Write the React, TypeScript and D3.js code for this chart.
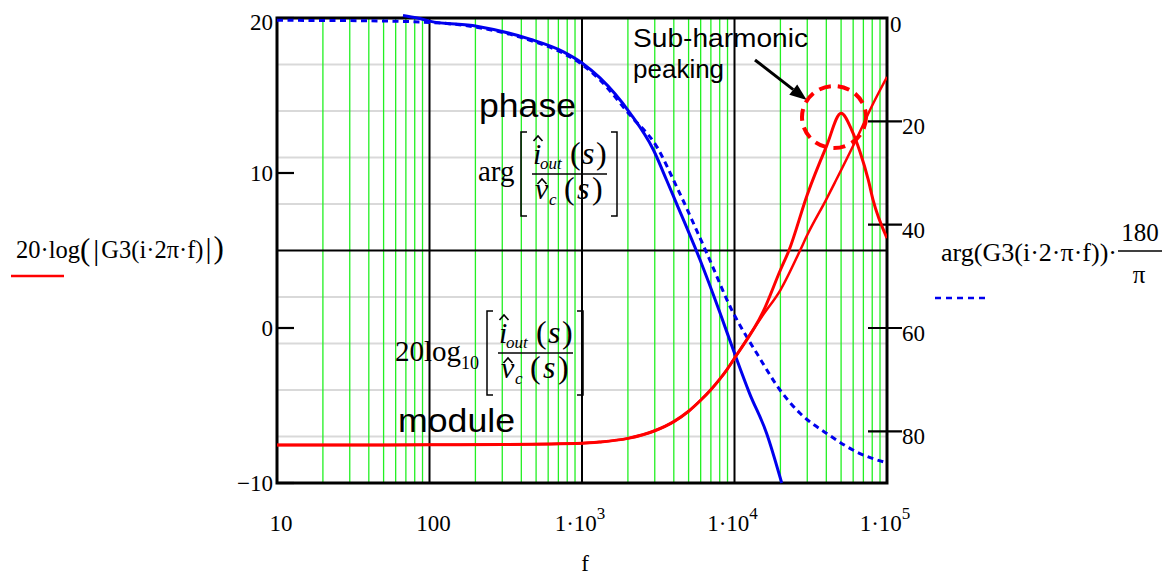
import React from 'react';
import * as d3 from 'd3';

// magnitude traces (dB), left axis
const peakFreq = [10, 30, 100, 300, 1000, 1300, 2000, 3000, 4000, 5000, 6000, 7000, 8000, 9000, 10000, 15400, 20000, 22750, 30000, 40000, 50000, 58700, 66500, 75400, 81000, 100000];
const peakDb = [-7.55, -7.55, -7.54, -7.52, -7.44, -7.36, -7.12, -6.63, -6.04, -5.37, -4.66, -3.98, -3.3, -2.63, -1.95, 1.05, 3.74, 5.0, 8.6, 11.7, 13.85, 12.77, 11.37, 9.55, 8.26, 5.8];
const modFreq = [10, 30, 100, 300, 1000, 1300, 2000, 3000, 4000, 5000, 6000, 7000, 8000, 9000, 10000, 15400, 20000, 26900, 30000, 40000, 45600, 61700, 81300, 100000];
const modDb = [-7.55, -7.55, -7.54, -7.52, -7.44, -7.36, -7.12, -6.63, -6.04, -5.37, -4.66, -3.98, -3.3, -2.63, -1.95, 0.85, 2.45, 5.0, 6.0, 8.3, 9.4, 12.0, 14.5, 16.2];

// phase traces (deg, drawn downward), right axis
const simFreq = [67, 83, 100, 204, 456, 750, 1000, 1312, 2065, 2937, 3590, 4070, 5940, 8040, 10000, 12530, 16250, 20400];
const simDeg = [-0.5, 0, 0.6, 1.6, 4.1, 6.5, 8.7, 11.6, 18.4, 25.5, 31.4, 35.2, 46.8, 57.1, 64.9, 72.6, 80.4, 90];
const argFreq = [10, 30, 100, 204, 456, 750, 1000, 1312, 2065, 3090, 4180, 6580, 9820, 12020, 14000, 19870, 26900, 40250, 66500, 94600, 100000];
const argDeg = [0.45, 0.5, 0.85, 1.8, 4.3, 6.8, 9.0, 12.0, 18.8, 24.9, 32.7, 45.5, 57.1, 61.7, 64.9, 72, 76.5, 80.4, 84.3, 85.9, 86.1];

const leftTicks = [20, 10, 0, -10];
const rightTicks = [0, 20, 40, 60, 80];
const decades = [10, 100, 1000, 10000, 100000];
const decadeLabels = [['10', ''], ['100', ''], ['1·10', '3'], ['1·10', '4'], ['1·10', '5']];
const phaseGrid = [9, 18, 27, 36, 54, 63, 72, 81];

const serif = "'Liberation Serif', 'Times New Roman', serif";
const sans = "'Liberation Sans', Arial, sans-serif";

const L = 277, R = 887, T = 18, B = 483;
const x = d3.scaleLog().domain([10, 1e5]).range([L, R]);
const yL = d3.scaleLinear().domain([-10, 20]).range([B, T]);
const yR = d3.scaleLinear().domain([0, 90]).range([T, B]);

function zip(a: number[], b: number[]) {
  return a.map((v, i) => [v, b[i]] as [number, number]);
}

const magLine = d3.line<[number, number]>().x(d => x(d[0])).y(d => yL(d[1])).curve(d3.curveMonotoneX);
const phLine = d3.line<[number, number]>().x(d => x(d[0])).y(d => yR(d[1])).curve(d3.curveMonotoneX);

function Hat({ cx, y }: { cx: number; y: number }) {
  return <path d={`M${cx - 4.5},${y + 5} L${cx},${y} L${cx + 4.5},${y + 5}`} fill="none" stroke="#000" strokeWidth={1.6} />;
}

// bracketed fraction i_out(s) / v_c(s)
function Frac({ x0, ly }: { x0: number; ly: number }) {
  const top = ly - 42, bot = ly + 42, xr = x0 + 96;
  return (
    <g fontFamily={serif} fill="#000">
      <path d={`M${x0 + 6},${top} H${x0} V${bot} H${x0 + 6}`} fill="none" stroke="#000" strokeWidth={1.5} />
      <path d={`M${xr - 6},${top} H${xr} V${bot} H${xr - 6}`} fill="none" stroke="#000" strokeWidth={1.5} />
      <line x1={x0 + 11} x2={x0 + 86} y1={ly} y2={ly} stroke="#000" strokeWidth={1.5} />
      <text x={x0 + 12} y={ly - 10} fontSize={30} fontStyle="italic">i</text>
      <Hat cx={x0 + 17} y={ly - 38} />
      <text x={x0 + 19} y={ly - 5} fontSize={17} fontStyle="italic">out</text>
      <text x={x0 + 49} y={ly - 10} fontSize={32}>(</text>
      <text x={x0 + 61} y={ly - 10} fontSize={32} fontStyle="italic">s</text>
      <text x={x0 + 75} y={ly - 10} fontSize={32}>)</text>
      <text x={x0 + 14} y={ly + 25} fontSize={30} fontStyle="italic">v</text>
      <Hat cx={x0 + 21} y={ly + 5} />
      <text x={x0 + 28} y={ly + 31} fontSize={17} fontStyle="italic">c</text>
      <text x={x0 + 43} y={ly + 25} fontSize={32}>(</text>
      <text x={x0 + 56} y={ly + 25} fontSize={32} fontStyle="italic">s</text>
      <text x={x0 + 71} y={ly + 25} fontSize={32}>)</text>
    </g>
  );
}

export default function App() {
  const minor: number[] = [];
  decades.slice(0, 4).forEach(d => { for (let k = 2; k <= 9; k++) minor.push(d * k); });

  // arrow toward the peak
  const ax1 = 755, ay1 = 60, ax2 = 806.7, ay2 = 100;
  const len = Math.hypot(ax2 - ax1, ay2 - ay1);
  const ux = (ax2 - ax1) / len, uy = (ay2 - ay1) / len;
  const hb = [ax2 - ux * 17, ay2 - uy * 17];
  const head = `${ax2},${ay2} ${hb[0] - uy * 6.5},${hb[1] + ux * 6.5} ${hb[0] + uy * 6.5},${hb[1] - ux * 6.5}`;

  return (
    <svg width={1168} height={575} style={{ position: 'absolute', left: 0, top: 0, background: '#fff' }}>
      <defs>
        <clipPath id="plot">
          <rect x={L} y={10} width={R - L} height={B - 10 + 1} />
        </clipPath>
      </defs>
      <rect width={1168} height={575} fill="#fff" />

      {/* grid */}
      {phaseGrid.map(p => (
        <line key={p} x1={L} x2={R} y1={yR(p)} y2={yR(p)} stroke="#d9d9d9" strokeWidth={2} />
      ))}
      {minor.map(f => (
        <line key={f} x1={x(f)} x2={x(f)} y1={T} y2={B} stroke="#22f022" strokeWidth={1.3} />
      ))}
      {decades.slice(1, 4).map(f => (
        <line key={f} x1={x(f)} x2={x(f)} y1={T} y2={B} stroke="#000" strokeWidth={2} />
      ))}
      <line x1={L} x2={R} y1={yL(5)} y2={yL(5)} stroke="#000" strokeWidth={2} />

      {/* frame and ticks */}
      <rect x={L} y={T} width={R - L} height={B - T} fill="none" stroke="#000" strokeWidth={3} />
      {leftTicks.map(v => (
        <line key={v} x1={L} x2={L + 17} y1={yL(v)} y2={yL(v)} stroke="#000" strokeWidth={2.2} />
      ))}
      {rightTicks.slice(1).map(v => (
        <line key={v} x1={R - 19} x2={R + 15} y1={yR(v)} y2={yR(v)} stroke="#000" strokeWidth={2.2} />
      ))}

      {/* tick labels */}
      <g fontFamily={serif} fontSize={23} fill="#000">
        {leftTicks.map(v => (
          <text key={v} x={273} y={Math.max(yL(v) + 8, 30)} textAnchor="end">{v < 0 ? '\u2212' + Math.abs(v) : v}</text>
        ))}
        {rightTicks.map(v => (
          <text key={v} x={v === 0 ? 890 : 902} y={v === 0 ? 32 : yR(v) + 13}>{v}</text>
        ))}
        {decades.map((f, i) => (
          <text key={f} x={x(f) + (i < 2 ? 4 : -2)} y={531} textAnchor="middle">
            {decadeLabels[i][0]}
            {decadeLabels[i][1] && <tspan fontSize={17} dy={-12}>{decadeLabels[i][1]}</tspan>}
          </text>
        ))}
        <text x={585} y={571} textAnchor="middle">f</text>
      </g>

      {/* traces */}
      <g clipPath="url(#plot)" fill="none" strokeLinejoin="round">
        <path d={phLine(zip(argFreq, argDeg)) || ''} stroke="#0000ee" strokeWidth={3} strokeDasharray="6 4.5" />
        <path d={phLine(zip(simFreq, simDeg)) || ''} stroke="#0000ee" strokeWidth={3} />
        <path d={magLine(zip(modFreq, modDb)) || ''} stroke="#ff0000" strokeWidth={2.5} />
        <path d={magLine(zip(peakFreq, peakDb)) || ''} stroke="#ff0000" strokeWidth={3} />
      </g>

      {/* annotations */}
      <g fontFamily={sans} fill="#000">
        <text x={479} y={117} fontSize={34} textLength={97} lengthAdjust="spacingAndGlyphs">phase</text>
        <text x={398} y={432} fontSize={34} textLength={117} lengthAdjust="spacingAndGlyphs">module</text>
        <text x={633} y={47} fontSize={26} textLength={175} lengthAdjust="spacingAndGlyphs">Sub-harmonic</text>
        <text x={633} y={78} fontSize={26}>peaking</text>
      </g>
      <text x={478} y={181} fontFamily={serif} fontSize={29}>arg</text>
      <Frac x0={521} ly={174} />
      <text x={395} y={361} fontFamily={serif} fontSize={29}>20log<tspan fontSize={18} dy={8}>10</tspan></text>
      <Frac x0={487} ly={353} />

      <line x1={ax1} y1={ay1} x2={hb[0]} y2={hb[1]} stroke="#000" strokeWidth={3} />
      <polygon points={head} fill="#000" />
      <ellipse cx={834} cy={117} rx={32} ry={31} fill="none" stroke="#ff0000" strokeWidth={4} strokeDasharray="12 7" />

      {/* legends */}
      <text x={16} y={258} fontFamily={serif} fontSize={24.5}>
        20·log<tspan fontSize={31} dy={2}>(</tspan>
        <tspan fontSize={30} dx={3}>|</tspan>
        <tspan fontSize={24.5} dy={-2} dx={2}>G3(i·2π·f)</tspan>
        <tspan fontSize={30} dx={2}>|</tspan>
        <tspan fontSize={31} dx={2}>)</tspan>
      </text>
      <line x1={11} x2={64} y1={276} y2={276} stroke="#ff0000" strokeWidth={2.5} />
      <g fontFamily={serif} fontSize={25} fill="#000">
        <text x={941} y={261} textLength={176} lengthAdjust="spacingAndGlyphs">arg(G3(i·2·π·f))·</text>
        <text x={1140} y={241} textAnchor="middle">180</text>
        <line x1={1118} x2={1162} y1={251} y2={251} stroke="#000" strokeWidth={1.6} />
        <text x={1139} y={283} textAnchor="middle">π</text>
      </g>
      <line x1={935} x2={990} y1={298} y2={298} stroke="#0000ee" strokeWidth={2.5} strokeDasharray="6 5" />
    </svg>
  );
}
